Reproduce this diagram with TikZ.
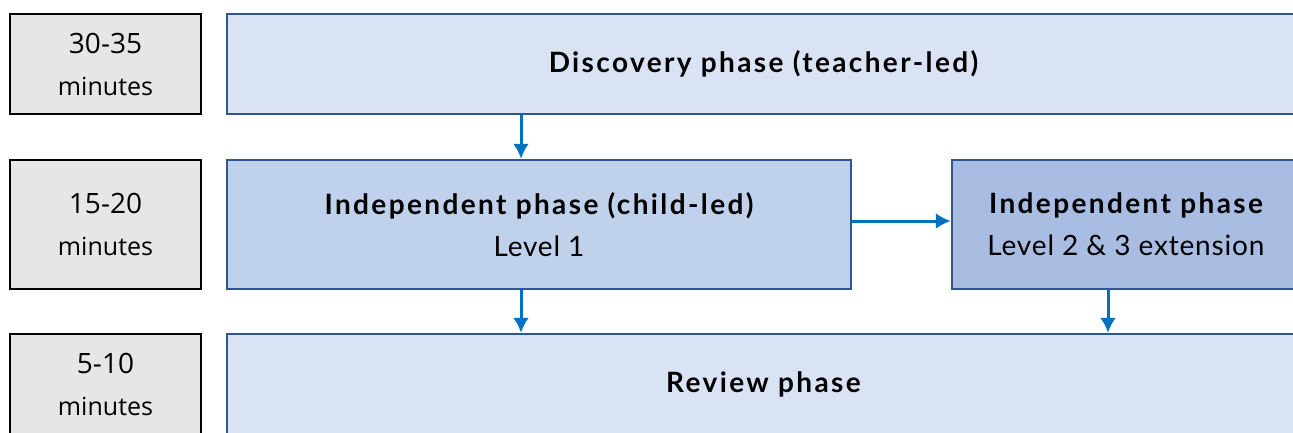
\documentclass[tikz,border=0pt]{standalone}
\usepackage{fontspec}
\setmainfont{Lato}
\newfontfamily\timefont{Open Sans}
\newfontfamily\phasehead{Lato}[LetterSpace=8.5]
\newfontfamily\phasetext{Lato}[LetterSpace=3]
\usetikzlibrary{arrows.meta}
\definecolor{phaseline}{HTML}{2F5597}
\definecolor{phaselight}{HTML}{DAE3F3}
\definecolor{phasemid}{HTML}{C0D1EB}
\definecolor{phasedark}{HTML}{A9BDE3}
\definecolor{flowblue}{HTML}{0070C0}
\definecolor{timegray}{HTML}{E6E6E6}
\tikzset{>={Latex[length=15pt,width=16pt]}}
\tikzset{
  timebox/.style={draw=black,line width=2pt,fill=timegray,minimum width=191pt,align=center,inner sep=0pt,font=\timefont\fontsize{25}{42}\selectfont},
  phasebox/.style={draw=phaseline,line width=2.5pt,align=center,inner sep=0pt,font=\phasetext\fontsize{28}{42}\selectfont},
  flow/.style={draw=flowblue,line width=3pt,->}
}
\newcommand{\phasetitle}[1]{{\phasehead\bfseries #1}}

\begin{document}
\begin{tikzpicture}[x=1pt,y=-1pt]
\clip (0,0) rectangle (1293,432);
% time column
\node[timebox,minimum height=100pt] (t1) at (105.5,64) {{\fontsize{28}{42}\selectfont 30-35}\\minutes};
\node[timebox,minimum height=129pt] (t2) at (105.5,224.5) {{\fontsize{28}{42}\selectfont 15-20}\\minutes};
\node[timebox,minimum height=100pt] (t3) at (105.5,384) {{\fontsize{28}{42}\selectfont 5-10}\\minutes};
% phases
\node[phasebox,fill=phaselight,minimum width=1073pt,minimum height=100pt] (top) at (763.5,64) {\phasetitle{Discovery phase (teacher-led)}};
\node[phasebox,fill=phasemid,minimum width=624pt,minimum height=129pt] (l1) at (539,224.5) {\phasetitle{Independent phase (child-led)}\\Level 1};
\node[phasebox,fill=phasedark,minimum width=348pt,minimum height=129pt] (l2) at (1126,224.5) {\phasetitle{Independent phase}\\Level 2 \& 3 extension};
\node[phasebox,fill=phaselight,minimum width=1073pt,minimum height=100pt] (review) at (763.5,384) {\phasetitle{Review phase}};
% flow
\path [flow] ([xshift=-18pt]l1.north |- top.south) -- ([xshift=-18pt]l1.north);
\path [flow] ([yshift=3.5pt]l1.east) -- ([yshift=3.5pt]l1.east -| l2.west);
\path [flow] ([xshift=-18pt]l1.south) -- ([xshift=-18pt]l1.south |- review.north);
\path [flow] ([xshift=-18pt]l2.south) -- ([xshift=-18pt]l2.south |- review.north);
\end{tikzpicture}
\end{document}
